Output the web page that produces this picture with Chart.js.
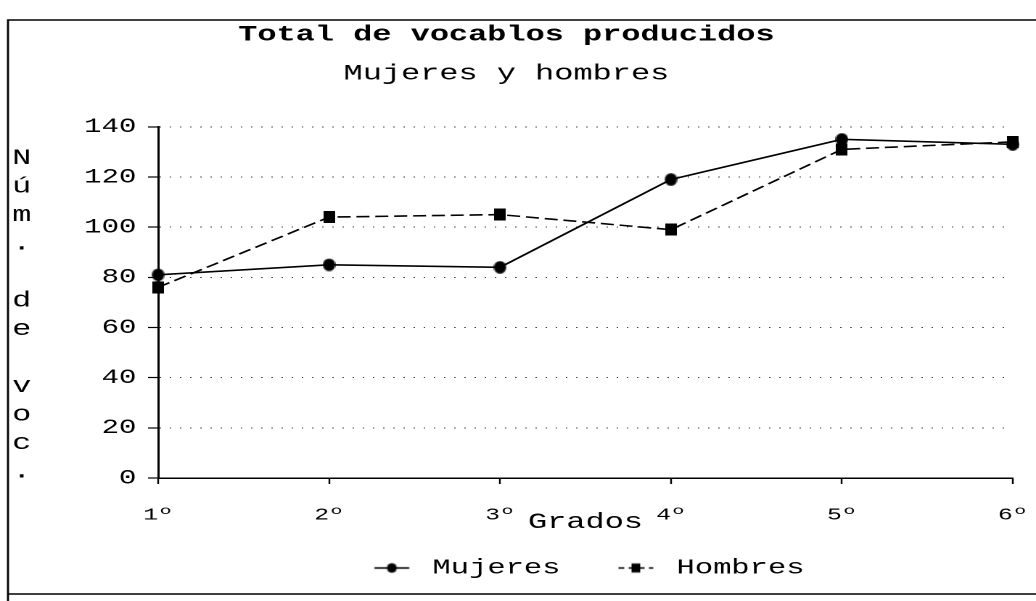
<!DOCTYPE html>
<html>
<head>
<meta charset="utf-8">
<script src="https://cdn.jsdelivr.net/npm/chart.js@4/dist/chart.umd.min.js"></script>
<style>
  html, body { margin: 0; padding: 0; background: #fff; overflow: hidden; }
</style>
</head>
<body>
<!-- the scan is stretched sideways, so the chart is drawn narrow and widened by css -->
<canvas id="grafico" width="714" height="601" style="width:1036px;height:601px"></canvas>
<script>
const grados = ['1º', '2º', '3º', '4º', '5º', '6º'];
const mujeres = [81, 85, 84, 119, 135, 133];
const hombres = [76, 104, 105, 99, 131, 134];
const ticksY = [0, 20, 40, 60, 80, 100, 120, 140];
const tituloY = 'Núm. de voc.';

const fuente = '"Liberation Mono", "Courier New", monospace';

// small marker pictures; narrower than tall so they look round once stretched
function marcador(forma, w, h) {
  const c = document.createElement('canvas');
  c.width = w;
  c.height = h;
  const g = c.getContext('2d');
  g.fillStyle = '#000';
  if (forma === 'circulo') {
    g.beginPath();
    g.ellipse(w / 2, h / 2, w / 2 - 0.2, h / 2 - 0.2, 0, 0, Math.PI * 2);
    g.fill();
  } else {
    g.fillRect(0, 0, w, h);
  }
  return c;
}

function simboloLeyenda(forma, guiones) {
  const c = document.createElement('canvas');
  c.width = 26;
  c.height = 12;
  const g = c.getContext('2d');
  g.strokeStyle = '#000';
  g.lineWidth = 1.6;
  g.setLineDash(guiones);
  g.beginPath();
  g.moveTo(1, 6);
  g.lineTo(25, 6);
  g.stroke();
  g.fillStyle = '#000';
  if (forma === 'circulo') {
    g.beginPath();
    g.ellipse(13, 6, 3.4, 4.8, 0, 0, Math.PI * 2);
    g.fill();
  } else {
    g.fillRect(10, 1.5, 6, 9);
  }
  return c;
}

const puntoMujeres = marcador('circulo', 9, 13);
const puntoHombres = marcador('cuadro', 8, 12);
const leyendaMujeres = simboloLeyenda('circulo', []);
const leyendaHombres = simboloLeyenda('cuadro', [4, 3]);

const marcoYTitulo = {
  id: 'marcoYTitulo',
  afterDraw(chart) {
    const ctx = chart.ctx;
    ctx.save();
    // frame of the scanned page
    ctx.strokeStyle = '#000';
    ctx.lineWidth = 1.4;
    ctx.beginPath();
    ctx.moveTo(5.5, 601);
    ctx.lineTo(5.5, 20);
    ctx.lineTo(714, 20);
    ctx.moveTo(5.5, 594);
    ctx.lineTo(714, 594);
    ctx.stroke();
    // vertical axis title, one letter under the other
    ctx.fillStyle = '#000';
    ctx.font = '22px ' + fuente;
    ctx.textAlign = 'center';
    ctx.textBaseline = 'middle';
    for (let i = 0; i < tituloY.length; i++) {
      if (tituloY[i] !== ' ') ctx.fillText(tituloY[i], 15, 158 + i * 28.5);
    }
    ctx.restore();
  }
};

Chart.defaults.font.family = fuente;
Chart.defaults.color = '#000';

const ctx = document.getElementById('grafico').getContext('2d');
const grafico = new Chart(ctx, {
  type: 'line',
  data: {
    labels: grados,
    datasets: [{
      label: 'Mujeres',
      data: mujeres,
      borderColor: '#000',
      backgroundColor: '#000',
      borderWidth: 1.6,
      pointStyle: puntoMujeres,
      pointRadius: 4,
      clip: false
    }, {
      label: 'Hombres',
      data: hombres,
      borderColor: '#000',
      backgroundColor: '#000',
      borderWidth: 1.6,
      borderDash: [9, 4],
      pointStyle: puntoHombres,
      pointRadius: 4,
      clip: false
    }]
  },
  options: {
    responsive: false,
    devicePixelRatio: 2,
    animation: false,
    layout: {
      padding: { left: 0, right: 16, top: 0, bottom: 12.5 }
    },
    scales: {
      x: {
        offset: false,
        afterFit(scale) {
          // the tick padding would otherwise also push the right edge in
          scale.paddingRight = 10;
        },
        grid: {
          drawOnChartArea: false,
          drawTicks: true,
          tickLength: 6,
          tickColor: '#000',
          tickWidth: 1.2,
          color: '#000'
        },
        border: { color: '#000', width: 1.5 },
        ticks: {
          padding: 20.8,
          maxRotation: 0,
          font: { size: 17 }
        },
        title: {
          display: true,
          text: 'Grados',
          font: { size: 22 },
          // pulled up so it sits almost on the row of grade labels, as in the scan
          padding: { top: -37.2, bottom: -12.2 }
        }
      },
      y: {
        min: 0,
        max: 140,
        afterBuildTicks(scale) {
          scale.ticks = ticksY.map(v => ({ value: v }));
        },
        afterFit(scale) {
          scale.width = 109;
        },
        grid: {
          color: '#444',
          lineWidth: 1,
          tickLength: 7,
          tickColor: '#000',
          tickWidth: 1.2,
          tickBorderDash: []
        },
        border: { color: '#000', width: 1.5, dash: [1, 6] },
        ticks: {
          padding: 8,
          font: { size: 20 }
        }
      }
    },
    plugins: {
      title: {
        display: true,
        text: 'Total de vocablos producidos',
        font: { size: 22, weight: 'bold' },
        padding: { top: 22, bottom: 0 }
      },
      subtitle: {
        display: true,
        text: 'Mujeres y hombres',
        font: { size: 22, weight: 'normal' },
        padding: { top: 12, bottom: 40 }
      },
      legend: {
        position: 'bottom',
        fullSize: false,
        labels: {
          usePointStyle: true,
          pointStyleWidth: 35,
          padding: 34.5,
          font: { size: 21 },
          generateLabels(chart) {
            const items = Chart.defaults.plugins.legend.labels.generateLabels(chart);
            items[0].pointStyle = leyendaMujeres;
            items[1].pointStyle = leyendaHombres;
            return items;
          }
        }
      },
      tooltip: { enabled: false }
    }
  },
  plugins: [marcoYTitulo]
});
</script>
</body>
</html>
